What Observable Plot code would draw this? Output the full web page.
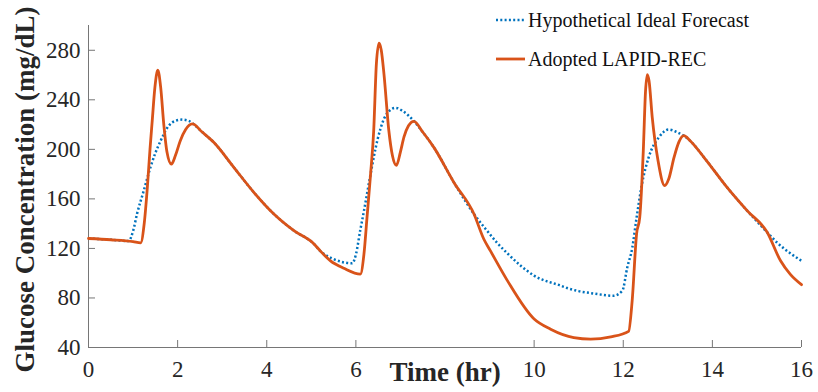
<!DOCTYPE html>
<html><head><meta charset="utf-8">
<script src="https://cdn.jsdelivr.net/npm/d3@7"></script>
<script src="https://cdn.jsdelivr.net/npm/@observablehq/plot@0.6"></script>
<style>
body{margin:0;background:#fff;}
#wrap{position:relative;width:818px;height:392px;}
#legend{position:absolute;left:0;top:0;pointer-events:none;}
</style></head><body><div id="wrap"></div>
<script>
const xTicks = [0, 2, 4, 6, 10, 12, 14, 16];
const yTicks = [40, 80, 120, 160, 200, 240, 280];
const xLabel = "Time (hr)";
const yLabel = "Glucose Concentration (mg/dL)";
const seriesNames = ["Hypothetical Ideal Forecast", "Adopted LAPID-REC"];
const seriesColors = ["#0072BD", "#D95319"];

const idealT = [0, 0.5, 0.9, 1.0, 1.09, 1.24, 1.39, 1.5, 1.62, 1.8, 1.95, 2.1, 2.25, 2.4, 2.55, 2.81, 3.26, 3.71, 4.16, 4.61, 5.06, 5.2, 5.5, 5.73, 5.92, 6.0, 6.1, 6.18, 6.33, 6.48, 6.63, 6.75, 6.89, 7.05, 7.3, 7.5, 7.75, 8.2, 8.65, 8.95, 9.17, 9.4, 9.7, 10.0, 10.59, 10.74, 11.0, 11.34, 11.78, 11.98, 12.09, 12.2, 12.3, 12.42, 12.57, 12.8, 13.02, 13.2, 13.36, 13.5, 13.81, 14.33, 14.78, 15.23, 15.45, 15.83, 16.0];
const idealG = [128, 127, 126, 134, 148, 166.6, 185.5, 197, 207, 219, 223, 224, 223, 219, 214, 205.7, 185.5, 165.3, 147.8, 134.3, 123.6, 118, 111.4, 108.7, 108, 115, 135, 150, 180, 207, 224.6, 231, 233.5, 231, 223, 214, 201.6, 173.3, 147.8, 134, 124.5, 116, 106, 98, 90, 88, 85.5, 83.6, 81.8, 85.8, 104.6, 120, 145, 172, 193.5, 209.7, 216, 214, 211, 207, 193.6, 169.3, 150.5, 133, 124.8, 114, 110];

const lapidT = [0, 0.5, 1.0, 1.17, 1.25, 1.32, 1.38, 1.43, 1.49, 1.555, 1.62, 1.69, 1.76, 1.86, 1.95, 2.06, 2.18, 2.33, 2.55, 2.81, 3.26, 3.71, 4.16, 4.61, 5.06, 5.2, 5.43, 5.73, 6.1, 6.18, 6.25, 6.33, 6.4, 6.46, 6.52, 6.57, 6.63, 6.74, 6.82, 6.91, 7.0, 7.08, 7.18, 7.3, 7.5, 7.75, 8.2, 8.65, 8.87, 9.02, 9.4, 10.0, 10.37, 10.89, 11.27, 11.72, 12.12, 12.2, 12.3, 12.37, 12.45, 12.5, 12.54, 12.58, 12.65, 12.78, 12.93, 13.02, 13.14, 13.25, 13.36, 13.5, 13.81, 14.33, 14.78, 15.23, 15.53, 15.75, 16.0];
const lapidG = [128, 127, 125.5, 124.5, 140, 169, 200, 223, 250, 264, 250, 220, 198, 188, 195, 207, 216, 220.5, 214, 205.7, 185.5, 165.3, 147.8, 134.3, 123.6, 118, 110, 104, 99.3, 115, 145, 180, 215, 269, 285.7, 280, 261, 215, 195, 187, 198, 210, 219, 222.6, 214, 201.6, 173.3, 147.8, 127.6, 118, 94, 63, 54.8, 48, 46.8, 48.6, 53, 77.7, 132, 145, 199, 247, 260.4, 255, 226, 191, 170.7, 176, 193.5, 206, 211, 207, 193.6, 169.3, 150.5, 133, 110, 99, 90.7];

const ideal = idealT.map((t, i) => ({t, g: idealG[i]}));
const lapid = lapidT.map((t, i) => ({t, g: lapidG[i]}));

const axisColor = "#767676";
const textColor = "#262626";
const font = "'Liberation Serif', 'Times New Roman', serif";

const plot = Plot.plot({
  width: 818, height: 392,
  marginLeft: 88, marginRight: 17, marginTop: 25, marginBottom: 45,
  style: {fontFamily: font, background: "white", overflow: "visible"},
  x: {domain: [0, 16]},
  y: {domain: [40, 300]},
  marks: [
    Plot.ruleY([40], {stroke: axisColor, strokeWidth: 1}),
    Plot.ruleX([0], {stroke: axisColor, strokeWidth: 1}),
    Plot.axisX(xTicks, {tickSize: -7, tickFormat: () => "", stroke: axisColor, label: null}),
    Plot.axisY(yTicks, {tickSize: -7, tickFormat: () => "", stroke: axisColor, label: null}),
    Plot.text(xTicks, {x: d => d, text: d => String(d), frameAnchor: "bottom", textAnchor: "middle", lineAnchor: "top", dy: 13, fontSize: 23, fontFamily: font, fill: textColor}),
    Plot.text(yTicks, {y: d => d, text: d => String(d), frameAnchor: "left", textAnchor: "end", lineAnchor: "middle", dx: -8, fontSize: 23, fontFamily: font, fill: textColor}),
    Plot.line(ideal, {x: "t", y: "g", stroke: seriesColors[0], strokeWidth: 2.5, strokeDasharray: "2,2.3", strokeLinecap: "butt", curve: "monotone-x"}),
    Plot.line(lapid, {x: "t", y: "g", stroke: seriesColors[1], strokeWidth: 2.8, curve: "monotone-x"}),
    Plot.text([xLabel], {frameAnchor: "bottom", textAnchor: "middle", lineAnchor: "bottom", dy: 33, fontSize: 27, fontWeight: "bold", fontFamily: font, fill: textColor}),
    Plot.text([yLabel], {frameAnchor: "left", textAnchor: "middle", lineAnchor: "bottom", rotate: -90, dx: -54.5, dy: 3, fontSize: 27, fontWeight: "bold", fontFamily: font, fill: textColor})
  ]
});
const wrap = document.getElementById("wrap");
wrap.appendChild(plot);

// legend overlay
const svgNS = "http://www.w3.org/2000/svg";
const leg = document.createElementNS(svgNS, "svg");
leg.setAttribute("id", "legend");
leg.setAttribute("width", 818);
leg.setAttribute("height", 80);
const rows = [{ly: 20, ty: 27, dash: "2,2.3", w: 2.5}, {ly: 59, ty: 66, dash: null, w: 2.8}];
rows.forEach((r, i) => {
  const ln = document.createElementNS(svgNS, "line");
  ln.setAttribute("x1", 496); ln.setAttribute("x2", 525);
  ln.setAttribute("y1", r.ly); ln.setAttribute("y2", r.ly);
  ln.setAttribute("stroke", seriesColors[i]);
  ln.setAttribute("stroke-width", r.w);
  if (r.dash) ln.setAttribute("stroke-dasharray", r.dash);
  leg.appendChild(ln);
  const tx = document.createElementNS(svgNS, "text");
  tx.setAttribute("x", 528); tx.setAttribute("y", r.ty);
  tx.setAttribute("font-family", font);
  tx.setAttribute("font-size", 20);
  tx.setAttribute("fill", "#111");
  tx.textContent = seriesNames[i];
  leg.appendChild(tx);
});
wrap.appendChild(leg);
</script></body></html>
